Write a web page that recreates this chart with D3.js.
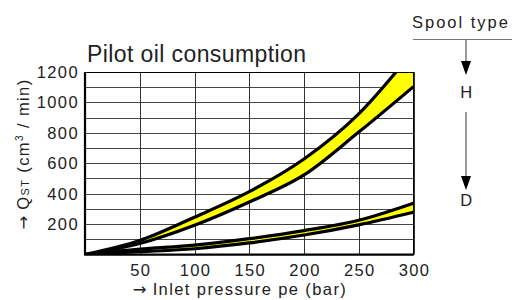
<!DOCTYPE html>
<html>
<head>
<meta charset="utf-8">
<script src="https://cdn.jsdelivr.net/npm/d3@7"></script>
<style>
body { margin: 0; background: #fff; }
text { font-family: "Liberation Sans", Arial, sans-serif; fill: #222; letter-spacing: 1.4px; }
.arr { font-family: "DejaVu Sans", sans-serif; }
</style>
</head>
<body>
<svg width="521" height="300"></svg>
<script>
// data
var pressure = [0, 50, 100, 150, 200, 250, 300];
var hHigh = [0, 92, 245, 413, 628, 925, 1340];
var hLow = [0, 72, 192, 345, 523, 805, 1104];
var dHigh = [0, 35, 62, 104, 157, 225, 337];
var dLow = [0, 18, 38, 76, 128, 195, 278];
var xTicks = [50, 100, 150, 200, 250, 300];
var yTicks = [200, 400, 600, 800, 1000, 1200];
var yGrid = [100, 200, 300, 400, 500, 600, 700, 800, 900, 1000, 1100];

function main() {
    var svg = d3.select("svg");
    var x = d3.scaleLinear().domain([0, 300]).range([85, 413.5]),
        y = d3.scaleLinear().domain([0, 1200]).range([254.5, 72]);

    svg.append("defs").append("clipPath").attr("id", "plot")
        .append("rect").attr("x", 85).attr("y", 72)
        .attr("width", 328.5).attr("height", 182.5);

    // grid
    var g = svg.append("g");
    g.selectAll(".hg").data(yGrid).enter().append("line")
        .attr("x1", x(0)).attr("x2", x(300))
        .attr("y1", d => Math.round(y(d)) + 0.5).attr("y2", d => Math.round(y(d)) + 0.5)
        .attr("stroke", "#444").attr("stroke-width", 1);
    g.selectAll(".vg").data(xTicks).enter().append("line")
        .attr("x1", d => Math.round(x(d)) + 0.5).attr("x2", d => Math.round(x(d)) + 0.5)
        .attr("y1", y(0)).attr("y2", y(1200))
        .attr("stroke", "#333").attr("stroke-width", 1);

    // bands
    function band(hi, lo) {
        var rows = pressure.map((p, i) => ({ p: p, hi: hi[i], lo: lo[i] }));
        var area = d3.area().curve(d3.curveMonotoneX)
            .x(d => x(d.p)).y0(d => y(d.lo)).y1(d => y(d.hi));
        var bg = svg.append("g").attr("clip-path", "url(#plot)");
        bg.append("path").datum(rows).attr("d", area).attr("fill", "#ffff00");
        [hi, lo].forEach(function(vals) {
            var line = d3.line().curve(d3.curveMonotoneX)
                .x((d, i) => x(pressure[i])).y(d => y(d));
            bg.append("path").datum(vals).attr("d", line)
                .attr("fill", "none").attr("stroke", "#000").attr("stroke-width", 3.2);
        });
    }
    band(hHigh, hLow);
    band(dHigh, dLow);

    // frame
    svg.append("rect").attr("x", x(0)).attr("y", y(1200) + 0.5)
        .attr("width", x(300) - x(0)).attr("height", y(0) - y(1200))
        .attr("fill", "none").attr("stroke", "#000").attr("stroke-width", 1);
    svg.append("path")
        .attr("d", "M" + x(0) + "," + y(1200) + "V" + y(0) + "H" + x(300))
        .attr("fill", "none").attr("stroke", "#000").attr("stroke-width", 2.2);

    // tick labels
    svg.selectAll(".yt").data(yTicks).enter().append("text")
        .attr("x", 79).attr("y", d => y(d) + 6)
        .attr("text-anchor", "end").attr("font-size", "16.5px")
        .text(d => d);
    svg.selectAll(".xt").data(xTicks).enter().append("text")
        .attr("x", d => x(d) + 1).attr("y", 276)
        .attr("text-anchor", "middle").attr("font-size", "16.5px")
        .text(d => d);

    svg.append("text").attr("x", 87).attr("y", 62)
        .attr("font-size", "23px").style("letter-spacing", "0.4px")
        .text("Pilot oil consumption");

    var xl = svg.append("text").attr("x", 240).attr("y", 295)
        .attr("text-anchor", "middle").attr("font-size", "16.5px");
    xl.append("tspan").attr("class", "arr").style("letter-spacing", "0px").text("\u2192");
    xl.append("tspan").text(" Inlet pressure pe (bar)");

    var yl = svg.append("text")
        .attr("transform", "translate(29,154) rotate(-90)")
        .attr("text-anchor", "middle").attr("font-size", "16.5px");
    yl.append("tspan").attr("class", "arr").style("letter-spacing", "0px").text("\u2192");
    yl.append("tspan").text(" Q");
    yl.append("tspan").attr("font-size", "11px").text("ST");
    yl.append("tspan").text(" (cm");
    yl.append("tspan").attr("font-size", "10px").attr("dy", -6).text("3");
    yl.append("tspan").attr("dy", 6).text(" / min)");

    // spool type legend
    svg.append("text").attr("x", 461).attr("y", 28)
        .attr("text-anchor", "middle").attr("font-size", "16.5px")
        .style("letter-spacing", "2px").text("Spool type");
    svg.append("line").attr("x1", 413).attr("x2", 512).attr("y1", 39.5).attr("y2", 39.5)
        .attr("stroke", "#777").attr("stroke-width", 1.2);
    function arrow(y1, y2) {
        svg.append("line").attr("x1", 466).attr("x2", 466).attr("y1", y1).attr("y2", y2 - 12)
            .attr("stroke", "#555").attr("stroke-width", 1.2);
        svg.append("path")
            .attr("d", "M461," + (y2 - 14) + "L471," + (y2 - 14) + "L466," + y2 + "Z")
            .attr("fill", "#000");
    }
    arrow(40, 75);
    arrow(112, 190);
    svg.append("text").attr("x", 467).attr("y", 98)
        .attr("text-anchor", "middle").attr("font-size", "16.5px").text("H");
    svg.append("text").attr("x", 467).attr("y", 206)
        .attr("text-anchor", "middle").attr("font-size", "16.5px").text("D");
}

main();
</script>
</body>
</html>
